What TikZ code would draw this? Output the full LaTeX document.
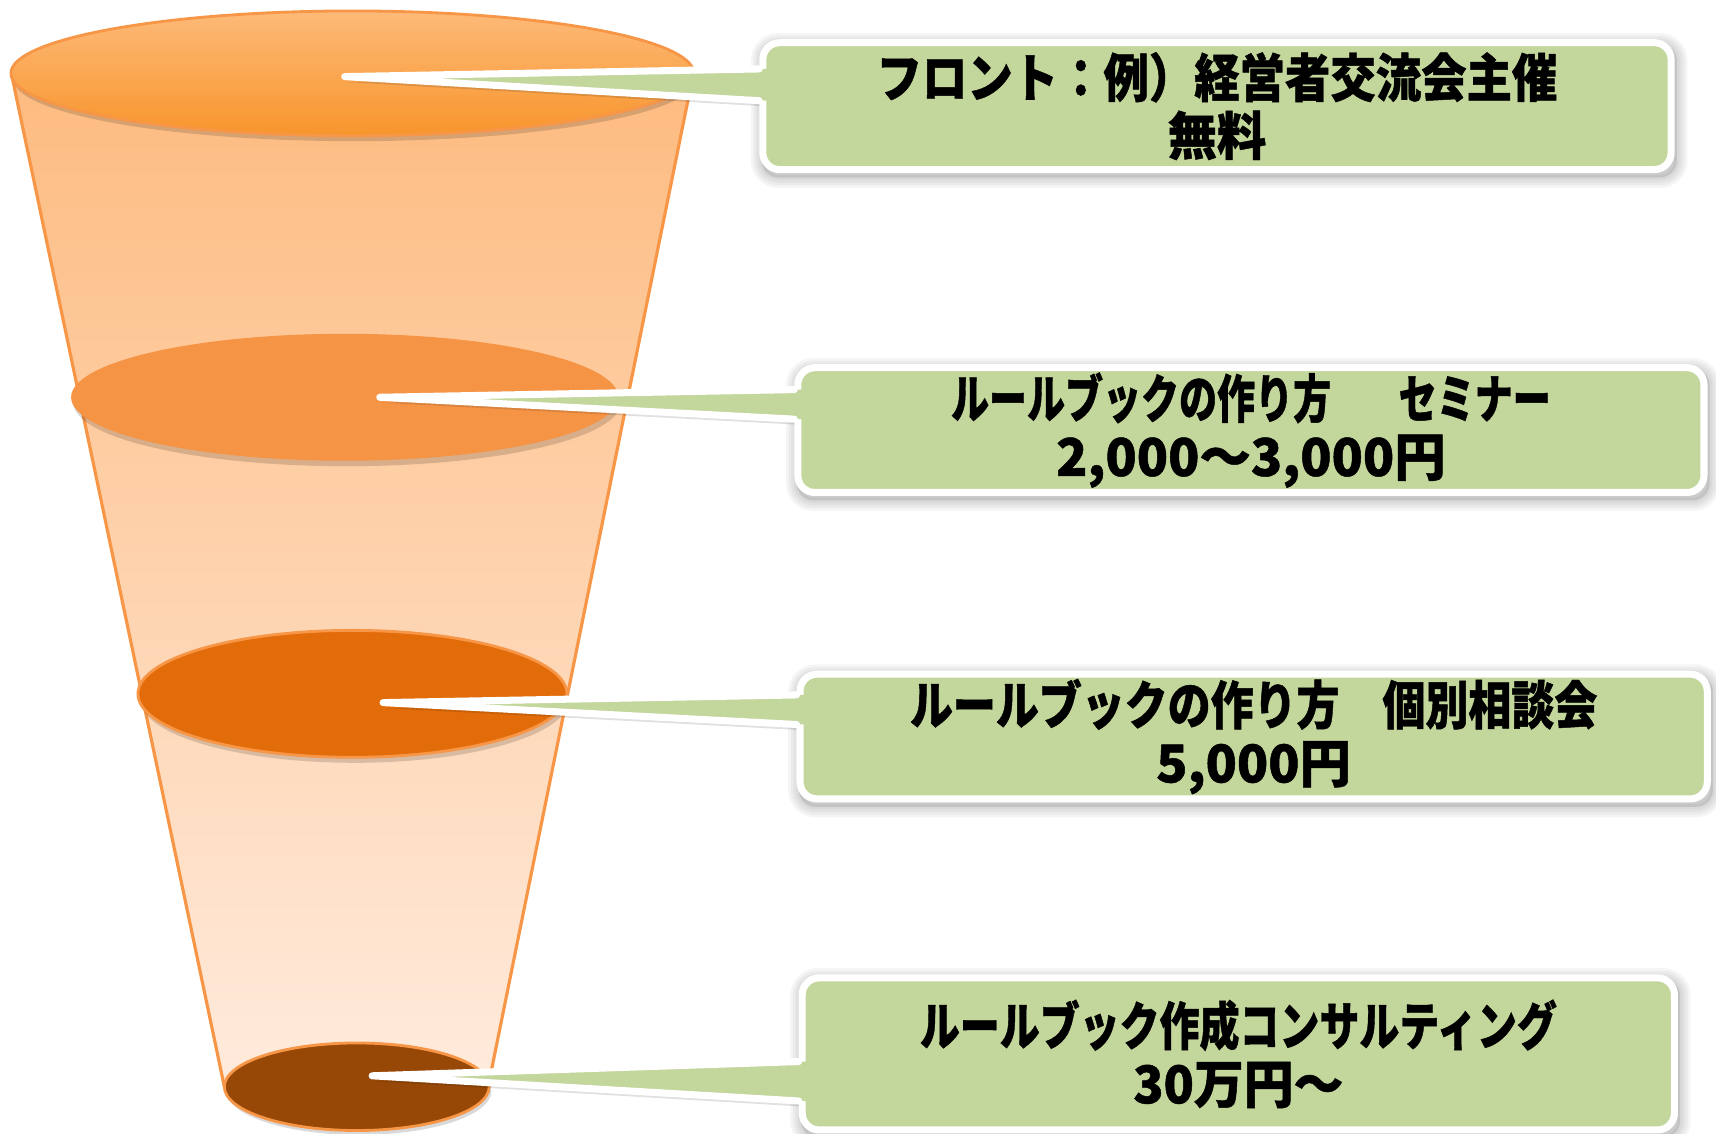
\documentclass[tikz,border=0pt]{standalone}
\usepackage{graphicx}
\usepackage{fontspec}
\newfontfamily\jp{Noto Sans CJK JP}[FakeStretch=0.9, BoldFeatures={FakeBold=0.9}]
\usetikzlibrary{calc}
\definecolor{funtop}{HTML}{FDBB80}
\definecolor{funbot}{HTML}{FFEBDD}
\definecolor{lidtop}{HTML}{FDBA79}
\definecolor{lidbot}{HTML}{F8952C}
\definecolor{ring}{HTML}{F79646}
\definecolor{disctwo}{HTML}{F69446}
\definecolor{discthree}{HTML}{E36C0A}
\definecolor{discfour}{HTML}{974806}
\definecolor{boxg}{HTML}{C3D69B}
\pgfdeclarelayer{bg}
\pgfdeclarelayer{sh}
\pgfsetlayers{bg,sh,main}
\newcommand\uu{0.010944cm}
\newlength\U
\setlength\U{0.010944cm}
\newcommand\fitline[2]{\resizebox{#1\U}{\height}{#2}}
\begin{document}
\begin{tikzpicture}[x=0.010944cm,y=-0.010944cm,
  box/.style={fill=boxg, draw=white, line width=2pt, rounded corners=0.17cm,
    inner sep=0pt, align=center,
    font=\jp\bfseries\fontsize{14.8}{16.5}\selectfont},
  wedge/.style={fill=boxg},
  rim/.style={draw=white, line width=2pt, line cap=round, line join=round},
  shadowfill/.style={fill=black, opacity=0.2},
  discrim/.style={draw=ring, line width=0.8pt}]
\useasboundingbox (0,0) rectangle (1568,1036);

% ---------- funnel ----------
\coordinate (ftl) at (11,70);
\coordinate (ftr) at (633,70);
\coordinate (fbr) at (446,993);
\coordinate (fbl) at (205,993);
\coordinate (e1) at (322,67);
\coordinate (e2) at (315,363);
\coordinate (e3) at (322,634);
\coordinate (e4) at (326,993);

\begin{pgfonlayer}{bg}
\draw[draw=ring, line width=0.9pt, top color=funtop, bottom color=funbot]
  (ftl) -- (ftr) -- (fbr) -- (fbl) -- cycle;
% disc shadows
\fill[shadowfill, opacity=0.15] ($(e1)+(2,5)$) ellipse [x radius=312, y radius=57];
\fill[shadowfill, opacity=0.15] ($(e2)+(2,5)$) ellipse [x radius=250, y radius=58];
\fill[shadowfill, opacity=0.15] ($(e3)+(2,5)$) ellipse [x radius=196, y radius=58];
\fill[shadowfill, opacity=0.15] ($(e4)+(2,4)$) ellipse [x radius=121, y radius=40];
% discs
\draw[discrim, top color=lidtop, bottom color=lidbot] (e1) ellipse [x radius=312, y radius=57];
\fill[disctwo] (e2) ellipse [x radius=250, y radius=58];
\draw[discrim, fill=discthree] (e3) ellipse [x radius=196, y radius=58];
\draw[discrim, fill=discfour] (e4) ellipse [x radius=121, y radius=40];
\end{pgfonlayer}

% ---------- callouts ----------
\node[box, minimum width={830*\uu}, minimum height={116*\uu}] (b1) at (1112,97)
  {\fitline{622}{フロント：例）経営者交流会主催}\\\fitline{90}{無料}};
\node[box, minimum width={828*\uu}, minimum height={114*\uu}] (b2) at (1143,393)
  {\fitline{548}{ルールブックの作り方　\hspace{0.7em}セミナー}\\\fitline{356}{2,000～3,000円}};
\node[box, minimum width={829*\uu}, minimum height={114*\uu}] (b3) at (1145.5,673)
  {\fitline{628}{ルールブックの作り方　個別相談会}\\\fitline{178}{5,000円}};
\node[box, minimum width={797*\uu}, minimum height={139*\uu}] (b4) at (1131.5,963)
  {\fitline{582}{ルールブック作成コンサルティング}\\\fitline{192}{30万円～}};

\coordinate (t1) at (315,70);
\coordinate (t2) at (347,363);
\coordinate (t3) at (350,642);
\coordinate (t4) at (340,983);
\coordinate (p1a) at (b1.west |- 0,63);
\coordinate (p1b) at (b1.west |- 0,92);
\coordinate (p2a) at (b2.west |- 0,356);
\coordinate (p2b) at (b2.west |- 0,383);
\coordinate (p3a) at (b3.west |- 0,635);
\coordinate (p3b) at (b3.west |- 0,662);
\coordinate (p4a) at (b4.west |- 0,970);
\coordinate (p4b) at (b4.west |- 0,1006);

\begin{pgfonlayer}{sh}
\foreach \i in {1,2,3,4}{
  \fill[black, opacity=0.10, rounded corners=0.17cm]
    ($(b\i.north west)+(2,4)$) rectangle ($(b\i.south east)+(2,4)$);
  \foreach \w in {1.5,3,4.5,6}{
    \draw[black, opacity=0.04, line width=\w pt, rounded corners=0.17cm]
      ($(b\i.north west)+(2,4)$) rectangle ($(b\i.south east)+(2,4)$);
  }
  \fill[black, opacity=0.12] ($(t\i)+(2,5)$) -- ($(p\i a)+(2,5)$) -- ($(p\i b)+(2,5)$) -- cycle;
}
\end{pgfonlayer}

\foreach \i in {1,2,3,4}{
  \fill[wedge] (t\i) -- ($(p\i a)+(7,0)$) -- ($(p\i b)+(7,0)$) -- cycle;
  \draw[rim] (p\i a) -- (t\i) -- (p\i b);
}
\end{tikzpicture}
\end{document}
